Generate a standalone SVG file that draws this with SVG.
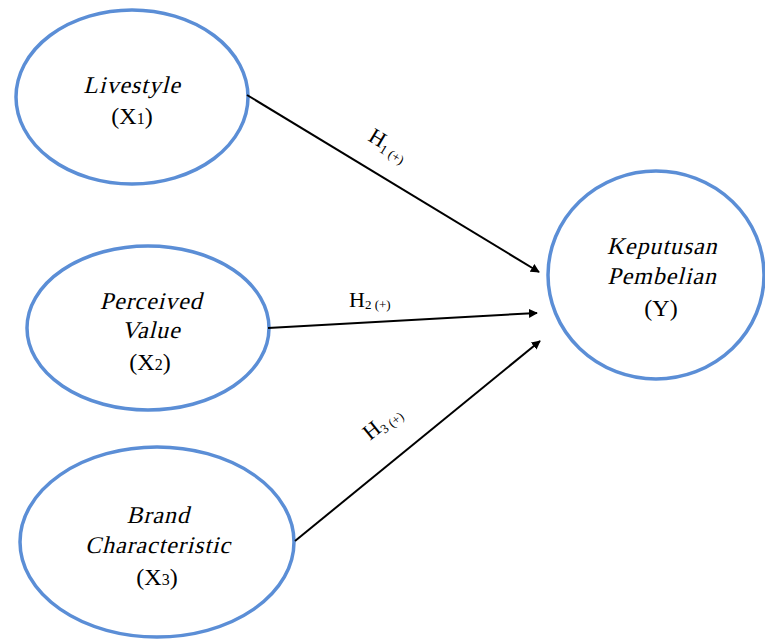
<svg xmlns="http://www.w3.org/2000/svg" width="765" height="639" viewBox="0 0 765 639">
<style>
.n{fill:#fff;stroke:#5b8ed6;stroke-width:3.5}
.t{font-family:"Liberation Serif","Times New Roman",serif;font-size:24px;fill:#000;text-anchor:middle}
.k{letter-spacing:0.9px}
.c{stroke:#000;stroke-width:2;fill:none;marker-end:url(#ah)}
.l{font-family:"Liberation Serif","Times New Roman",serif;font-size:22px;fill:#000}
.s{font-size:13px}
</style>
<defs>
<marker id="ah" viewBox="0 0 10 10" refX="9" refY="5" markerWidth="9" markerHeight="9" markerUnits="userSpaceOnUse" orient="auto">
<path d="M0,0 L10,5 L0,10 z" fill="#000"/>
</marker>
</defs>
<rect width="765" height="639" fill="#fff"/>
<g id="x1">
<ellipse class="n" cx="132" cy="97" rx="116" ry="87"/>
<text class="t k" transform="translate(132,93) skewX(-14)">Livestyle</text>
<text class="t" x="132" y="124">(X<tspan font-size="16">1</tspan>)</text>
</g>
<g id="x2">
<ellipse class="n" cx="148" cy="328" rx="121" ry="82"/>
<text class="t k" transform="translate(151,309) skewX(-14)">Perceived</text>
<text class="t k" transform="translate(151,338) skewX(-14)">Value</text>
<text class="t" x="150" y="370">(X<tspan font-size="16">2</tspan>)</text>
</g>
<g id="x3">
<ellipse class="n" cx="157" cy="542" rx="137" ry="95"/>
<text class="t k" transform="translate(158,523) skewX(-14)">Brand</text>
<text class="t k" transform="translate(158,553) skewX(-14)">Characteristic</text>
<text class="t" x="157" y="585">(X<tspan font-size="16">3</tspan>)</text>
</g>
<g id="y">
<ellipse class="n" cx="656" cy="275" rx="108" ry="104"/>
<text class="t k" transform="translate(662,254) skewX(-14)">Keputusan</text>
<text class="t k" transform="translate(662,284) skewX(-14)">Pembelian</text>
<text class="t" x="661" y="316">(Y)</text>
</g>
<g id="connectors">
<line class="c" x1="247" y1="95" x2="539" y2="272"/>
<line class="c" x1="268" y1="328" x2="537" y2="313"/>
<line class="c" x1="295" y1="541" x2="540" y2="341"/>
</g>
<g id="labels">
<text class="l" transform="translate(367,140) rotate(31)">H<tspan class="s" dy="4">1 (+)</tspan></text>
<text class="l" x="349" y="307">H<tspan class="s" dy="2">2 (+)</tspan></text>
<text class="l" transform="translate(370,441) rotate(-39)">H<tspan class="s" dy="4">3 (+)</tspan></text>
</g>
</svg>
